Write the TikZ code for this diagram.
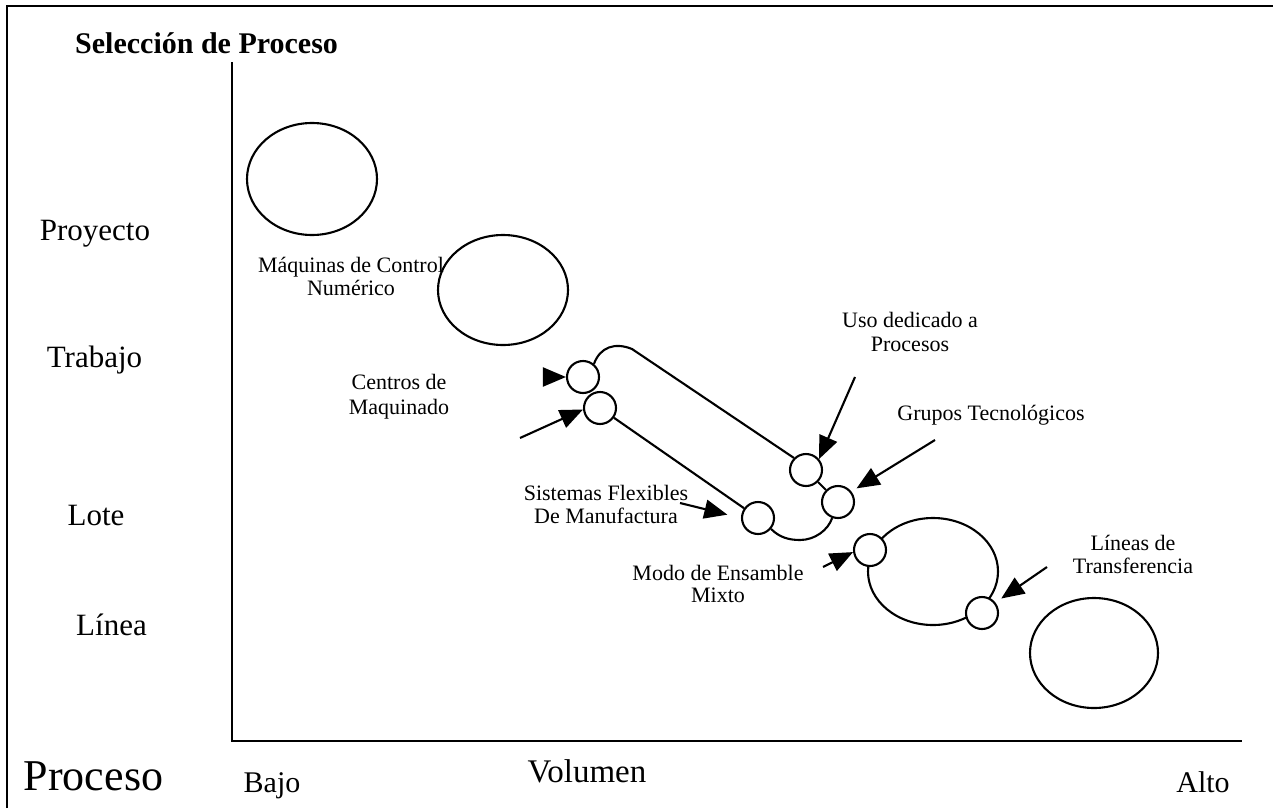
\documentclass[tikz,border=0pt]{standalone}
\usepackage{fontspec}
\setmainfont{Liberation Serif}
\usetikzlibrary{arrows.meta,shapes.geometric}
\begin{document}
\begin{tikzpicture}[x=1pt,y=-1pt,
  ln/.style={line width=2.1pt},
  bigell/.style={ellipse, draw, line width=2.1pt, inner sep=0pt},
  smallc/.style={circle, draw, fill=white, line width=2.1pt, minimum size=32pt, inner sep=0pt},
  arr/.style={line width=2.1pt, -{Triangle[length=23pt,width=19pt]}},
  lbl/.style={font=\fontsize{22}{23}\selectfont, inner sep=0pt, anchor=base},
  cat/.style={font=\fontsize{31}{33}\selectfont, inner sep=0pt, anchor=base},
]
\useasboundingbox (0,0) rectangle (1273,808);
% frame
\draw[line width=1.6pt] (7,808) -- (7,6) -- (1273,6);
% axes
\draw[ln] (232,62) -- (232,741) -- (1242,741);
% title and axis labels
\node[font=\bfseries\fontsize{30}{32}\selectfont, inner sep=0pt, anchor=base west] (title) at (75,53) {Selección de Proceso};
\node[cat] (proy) at (95,240) {Proyecto};
\node[cat] (trab) at (94.5,367) {Trabajo};
\node[cat] (lote) at (96,525) {Lote};
\node[cat] (linea) at (111.5,635) {Línea};
\node[font=\fontsize{44}{46}\selectfont, inner sep=0pt, anchor=base] (proc) at (93.5,790) {Proceso};
\node[font=\fontsize{30}{32}\selectfont, inner sep=0pt, anchor=base] (bajo) at (272,792) {Bajo};
\node[font=\fontsize{33}{35}\selectfont, inner sep=0pt, anchor=base] (vol) at (587,782) {Volumen};
\node[font=\fontsize{30}{32}\selectfont, inner sep=0pt, anchor=base] (alto) at (1203,792) {Alto};
% big ellipses
\node[bigell, minimum width=130pt, minimum height=112pt] (e1) at (312,179) {};
\node[bigell, minimum width=130pt, minimum height=110pt] (e2) at (503,290) {};
\node[bigell, minimum width=130pt, minimum height=107pt] (e3) at (933,571.5) {};
\node[bigell, minimum width=128pt, minimum height=110pt] (e4) at (1094,653) {};
% small circles
\node[smallc] (c1) at (583,377) {};
\node[smallc] (c2) at (600,408) {};
\node[smallc] (c3) at (806,470) {};
\node[smallc] (c4) at (838,502) {};
\node[smallc] (c5) at (758,518) {};
\node[smallc] (c6) at (870,550) {};
\node[smallc] (c7) at (982,613) {};
% capsule
\draw[ln] (c1.50) .. controls (600,347) and (615,342) .. (632,349) -- (c3.135);
\draw[ln] (c3.-45) -- (c4.135);
\draw[ln] (c2.-35) -- (c5.145);
\draw[ln] (c5.-40) .. controls (780,538) and (790,540) .. (800,540)
  .. controls (815,540) and (828,530) .. (c4.-110);
% labels
\node[lbl] (mcn1) at (351,272) {Máquinas de Control};
\node[lbl] (mcn2) at (351,295) {Numérico};
\node[lbl] (cm1) at (399,389) {Centros de};
\node[lbl] (cm2) at (399,414) {Maquinado};
\node[lbl] (ud1) at (910,327) {Uso dedicado a};
\node[lbl] (ud2) at (910,351) {Procesos};
\node[lbl] (gt) at (991,420) {Grupos Tecnológicos};
\node[lbl] (sf1) at (606,500) {Sistemas Flexibles};
\node[lbl] (sf2) at (606,523) {De Manufactura};
\node[lbl] (me1) at (718,580) {Modo de Ensamble};
\node[lbl] (me2) at (718,602) {Mixto};
\node[lbl] (lt1) at (1133,550) {Líneas de};
\node[lbl] (lt2) at (1133,573) {Transferencia};
% arrows
\coordinate (s1) at (543,377);
\coordinate (s2) at (520,438);
\coordinate (s3) at (855,377);
\coordinate (s4) at (935,440);
\coordinate (s5) at (680,503);
\coordinate (s6) at (823,567);
\coordinate (s7) at (1047,567);
\draw[arr] (s1) -- (c1.west);
\draw[arr] (s2) -- (c2.185);
\draw[arr] (s3) -- (c3.40);
\draw[arr, shorten >=6pt] (s4) -- (c4.38);
\draw[arr, shorten >=14pt] (s5) -- (c5.west);
\draw[arr] (s6) -- (c6.187);
\draw[arr, shorten >=7pt] (s7) -- (c7.38);
\end{tikzpicture}
\end{document}
